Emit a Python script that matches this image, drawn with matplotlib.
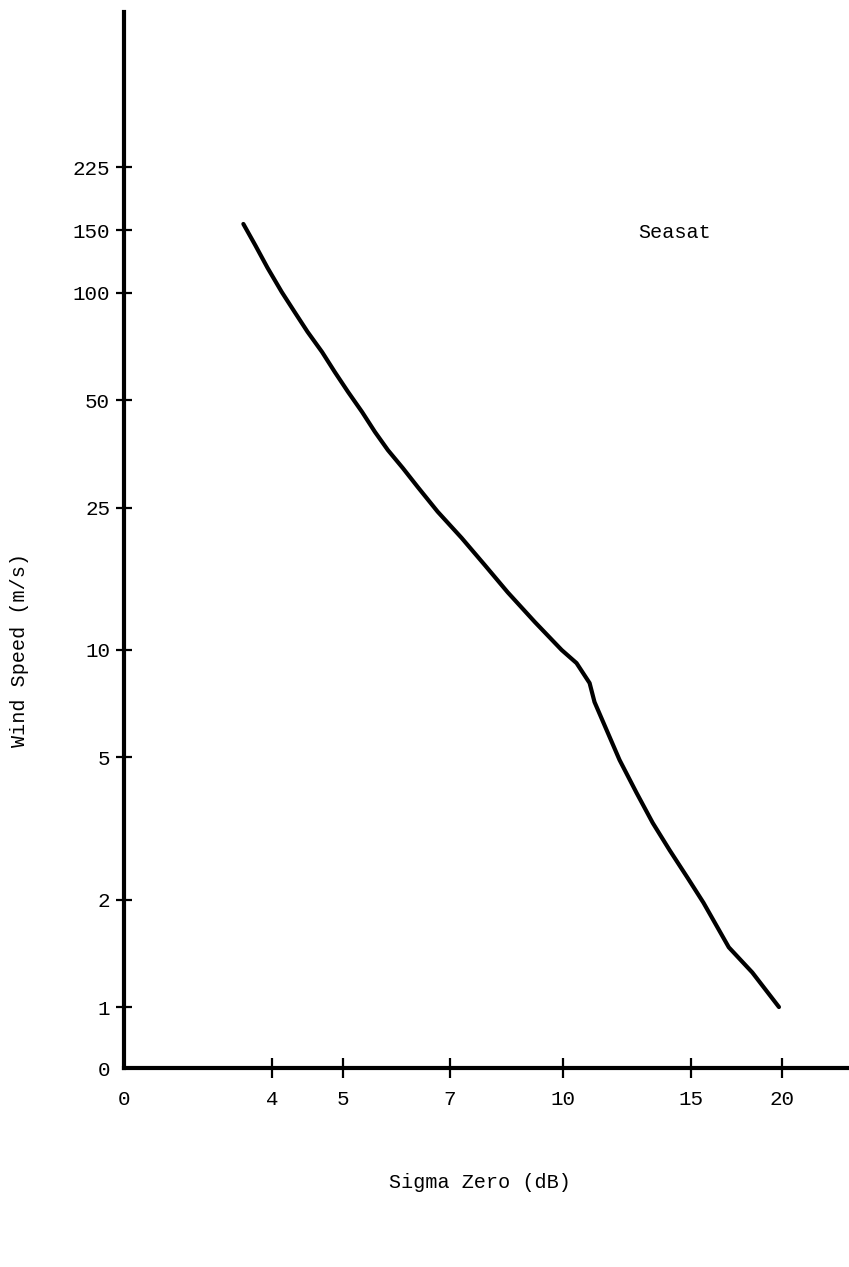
import matplotlib
matplotlib.use('Agg')
import matplotlib.pyplot as plt

# Seasat wind speed vs sigma zero
sigma0 = [3.65, 3.79, 3.94, 4.12, 4.29, 4.47, 4.68, 4.87, 5.08, 5.31, 5.53,
          5.76, 6.04, 6.33, 6.74, 7.27, 7.82, 8.41, 9.16, 9.97, 10.45, 10.89,
          11.06, 11.49, 11.97, 12.63, 13.29, 14.02, 14.84, 15.6, 16.9, 18.2, 19.8]
wind = [156, 136, 117.5, 100.6, 88.5, 77.8, 68.3, 60.1, 52.8, 46.4, 40.8,
        36.3, 32.3, 28.6, 24.4, 20.6, 17.3, 14.5, 11.98, 10.0, 9.19, 8.08,
        7.15, 5.97, 4.92, 3.98, 3.28, 2.75, 2.30, 1.96, 1.47, 1.25, 1.0]

x_ticks = [4, 5, 7, 10, 15, 20]
y_ticks = [1, 2, 5, 10, 25, 50, 100, 150, 225]

xmin, xmax = 2.504, 24.7
ymin, ymax = 0.675, 612

plt.rcParams['font.family'] = ['Liberation Mono', 'DejaVu Sans']

fig = plt.figure(figsize=(8.49, 12.67), dpi=100)
ax = fig.add_axes([124 / 849, 1 - 1068 / 1267, 725 / 849, 1056 / 1267])

ax.plot(sigma0, wind, color='black', lw=3, solid_capstyle='round',
        solid_joinstyle='round')

ax.set_xscale('log')
ax.set_yscale('log')
ax.set_xlim(xmin, xmax)
ax.set_ylim(ymin, ymax)

ax.set_xticks([xmin] + x_ticks)
ax.set_xticklabels(['0'] + [str(t) for t in x_ticks])
ax.set_yticks([ymin] + y_ticks)
ax.set_yticklabels(['0'] + [str(t) for t in y_ticks])
ax.minorticks_off()

ax.tick_params(axis='x', direction='inout', length=15, width=1.6, pad=8, labelsize=15)
ax.tick_params(axis='y', direction='inout', length=12, width=1.6, pad=4, labelsize=15)
ax.xaxis.get_major_ticks()[0].tick1line.set_visible(False)
ax.yaxis.get_major_ticks()[0].tick1line.set_visible(False)

for s in ['top', 'right']:
    ax.spines[s].set_visible(False)
for s in ['left', 'bottom']:
    ax.spines[s].set_linewidth(3)

ax.text(12.7, 148, 'Seasat', va='center', ha='left', fontsize=14.5)

fig.text(20 / 849, 1 - 650 / 1267, 'Wind Speed (m/s)', rotation=90,
         ha='center', va='center', fontsize=14.5)
fig.text(480 / 849, 1 - 1182 / 1267, 'Sigma Zero (dB)', ha='center',
         va='center', fontsize=14.5)

fig.savefig('out.png', dpi=100)
